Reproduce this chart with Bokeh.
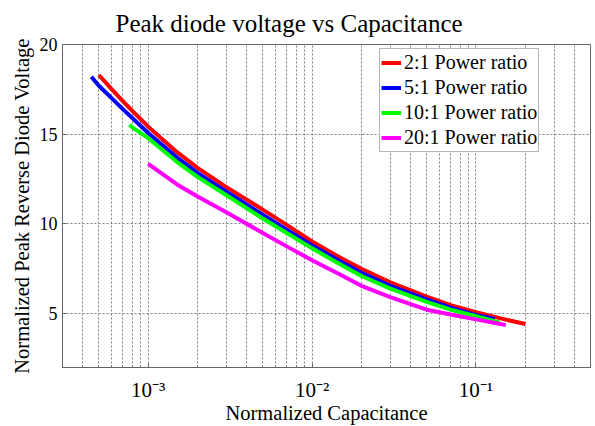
from bokeh.plotting import figure
from bokeh.models import Range1d, FixedTicker, Legend, LegendItem
from bokeh.embed import file_html
from bokeh.resources import INLINE

# ---- data ----
red_x = [5e-4, 6e-4, 7e-4, 8e-4, 1e-3, 1.5e-3, 2e-3, 3e-3, 5e-3, 7e-3, 1e-2,
         1.5e-2, 2e-2, 3e-2, 5e-2, 7e-2, 1e-1, 1.5e-1, 2e-1]
red_y = [18.3, 17.5, 16.85, 16.3, 15.42, 14.0, 13.12, 12.05, 10.8, 9.95, 9.02,
         8.1, 7.5, 6.75, 5.95, 5.48, 5.08, 4.68, 4.42]

blue_x = [4.5e-4, 5e-4, 6e-4, 7e-4, 8e-4, 1e-3, 1.5e-3, 2e-3, 3e-3, 5e-3, 7e-3,
          1e-2, 1.5e-2, 2e-2, 3e-2, 5e-2, 7e-2, 1e-1, 1.3e-1]
blue_y = [18.2, 17.7, 17.0, 16.4, 15.9, 15.07, 13.7, 12.85, 11.8, 10.52, 9.68,
          8.8, 7.9, 7.28, 6.55, 5.8, 5.33, 4.93, 4.7]

green_x = [7.7e-4, 8e-4, 1e-3, 1.5e-3, 2e-3, 3e-3, 5e-3, 7e-3, 1e-2,
           1.5e-2, 2e-2, 3e-2, 5e-2, 7e-2, 1e-1, 1.4e-1]
green_y = [15.53, 15.38, 14.78, 13.45, 12.62, 11.6, 10.3, 9.5, 8.64,
           7.72, 7.1, 6.4, 5.66, 5.22, 4.86, 4.5]

mag_x = [1e-3, 1.5e-3, 2e-3, 3e-3, 5e-3, 7e-3, 1e-2, 1.5e-2, 2e-2, 3e-2,
         5e-2, 7e-2, 1e-1, 1.52e-1]
mag_y = [13.35, 12.2, 11.53, 10.65, 9.5, 8.75, 7.98, 7.15, 6.55, 5.92,
         5.22, 4.95, 4.68, 4.37]

series_labels = ["2:1 Power ratio", "5:1 Power ratio", "10:1 Power ratio", "20:1 Power ratio"]
series_colors = ["#ff0000", "#0000ff", "#00ff00", "#ff00ff"]

xticks = [1e-3, 1e-2, 1e-1]
xtick_labels = ["10\u207b\u00b3", "10\u207b\u00b2", "10\u207b\u00b9"]
yticks = [5, 10, 15, 20]

FONT = "Liberation Serif"

p = figure(width=595, height=426, x_axis_type="log",
           x_range=Range1d(3e-4, 0.5), y_range=Range1d(2, 20),
           output_backend="svg", toolbar_location=None,
           min_border_left=62, min_border_right=5, min_border_top=44, min_border_bottom=53)

p.title.text = "Peak diode voltage vs Capacitance"
p.title.text_font = FONT
p.title.text_font_size = "25px"
p.title.text_font_style = "normal"
p.title.text_color = "#000000"
p.title.align = "left"
p.title.offset = 53
p.title.standoff = 15

minor = [m * 10.0 ** e for e in (-4, -3, -2, -1) for m in range(2, 10)]
p.xaxis.ticker = FixedTicker(ticks=xticks, minor_ticks=[v for v in minor if 3e-4 <= v <= 0.5])
p.xaxis.major_label_overrides = {v: s for v, s in zip(xticks, xtick_labels)}
p.yaxis.ticker = FixedTicker(ticks=yticks)

for ax in (p.xaxis, p.yaxis):
    ax.axis_label_text_font = FONT
    ax.axis_label_text_font_style = "normal"
    ax.axis_label_text_font_size = "20.5px"
    ax.axis_label_text_color = "#000000"
    ax.major_label_text_font = FONT
    ax.major_label_text_color = "#000000"
    ax.axis_line_color = "#666666"
    ax.major_tick_line_color = "#666666"
    ax.minor_tick_line_color = "#666666"
    ax.major_tick_in = 4
    ax.major_tick_out = 0
    ax.minor_tick_in = 2
    ax.minor_tick_out = 0

p.xaxis.axis_label = "Normalized Capacitance"
p.yaxis.axis_label = "Normalized Peak Reverse Diode Voltage"
p.xaxis.major_label_text_font_size = "21px"
p.yaxis.major_label_text_font_size = "18px"
p.xaxis.major_label_standoff = 10
p.xaxis.axis_label_standoff = -3
p.yaxis.major_label_standoff = 5
p.yaxis.axis_label_standoff = 4

p.xgrid.grid_line_color = "#808080"
p.xgrid.grid_line_dash = "2 2"
p.xgrid.minor_grid_line_color = "#808080"
p.xgrid.minor_grid_line_dash = "2 2"
p.ygrid.grid_line_color = "#808080"
p.ygrid.grid_line_dash = "2 2"

p.outline_line_color = "#666666"
p.outline_line_width = 1
p.background_fill_color = "white"
p.border_fill_color = "white"

items = []
for xs, ys, col, lab in zip([red_x, blue_x, green_x, mag_x], [red_y, blue_y, green_y, mag_y],
                            series_colors, series_labels):
    r = p.line(xs, ys, line_color=col, line_width=4, line_join="round")
    items.append(LegendItem(label=lab, renderers=[r]))

legend = Legend(items=items, location=(317, 215))
legend.label_text_font = FONT
legend.label_text_font_size = "20px"
legend.label_text_color = "#000000"
legend.padding = 1
legend.spacing = 0
legend.margin = 0
legend.label_height = 25
legend.glyph_height = 25
legend.glyph_width = 20
legend.label_standoff = 3
legend.border_line_color = "#707070"
legend.border_line_width = 1
legend.background_fill_color = "white"
legend.background_fill_alpha = 1.0
p.add_layout(legend, "center")

open("out.html", "w").write(file_html(p, INLINE))
